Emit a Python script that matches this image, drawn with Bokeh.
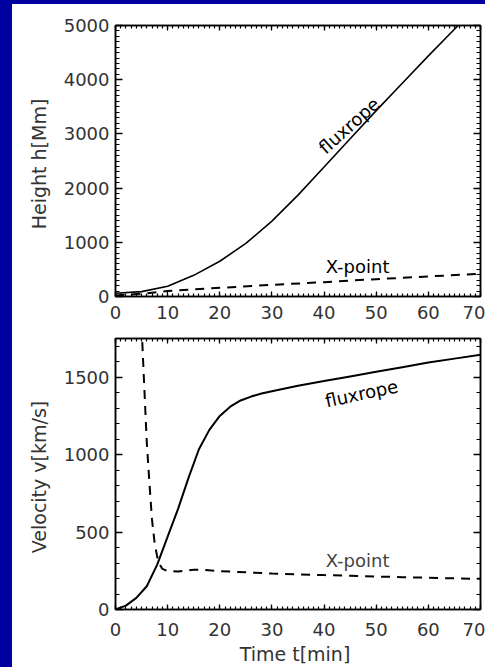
from bokeh.plotting import figure
from bokeh.models import Range1d, LinearAxis, SingleIntervalTicker, Label, Div, CustomJSTickFormatter
from bokeh.layouts import row, column
from bokeh.embed import file_html
from bokeh.resources import INLINE

# ---------------- data ----------------
# Height panel
t_h_flux = [0, 5, 10, 15, 20, 25, 30, 35, 40, 45, 50, 55, 60, 65, 70]
h_flux = [60, 90, 190, 390, 650, 980, 1390, 1870, 2390, 2910, 3430, 3935, 4440, 4930, 5420]
t_h_xpt = [0, 5, 10, 20, 30, 40, 50, 60, 70]
h_xpt = [20, 50, 100, 160, 215, 265, 320, 370, 420]

# Velocity panel
t_v_flux = [0, 2, 4, 6, 8, 10, 12, 14, 16, 18, 20, 22, 24, 26, 28, 30,
            35, 40, 45, 50, 55, 60, 65, 70]
v_flux = [0, 25, 75, 150, 290, 470, 650, 850, 1035, 1160, 1250, 1310, 1350, 1375, 1395, 1410,
          1445, 1475, 1505, 1535, 1565, 1595, 1620, 1645]
t_v_xpt = [5.0, 5.5, 6.0, 6.5, 7.0, 7.5, 8.0, 8.5, 9.0, 10, 12, 15, 17, 20, 25, 30,
           35, 40, 45, 50, 55, 60, 65, 70]
v_xpt = [1830, 1450, 1080, 820, 580, 430, 340, 290, 262, 248, 245, 256, 256, 248, 240, 232,
         227, 222, 218, 213, 209, 205, 201, 198]

x_range = (0, 70)
h_range = (0, 5000)
v_range = (0, 1750)

FONT = "DejaVu Sans"
TXT = "#333333"
BLUE = "#0000A0"


def make_fig(height, top, bottom, y_rng, y_int, y_minor, y_label, x_label, x_std, x_lab_std):
    p = figure(width=473, height=height, x_range=Range1d(*x_range), y_range=Range1d(*y_rng),
               output_backend="svg", toolbar_location=None,
               x_axis_type=None, y_axis_type=None,
               min_border_left=103, min_border_right=5,
               min_border_top=top, min_border_bottom=bottom,
               background_fill_color="white", border_fill_color="white")
    p.grid.visible = False
    p.outline_line_color = "black"
    p.outline_line_width = 1.5
    xt = SingleIntervalTicker(interval=10, num_minor_ticks=10)
    yt = SingleIntervalTicker(interval=y_int, num_minor_ticks=y_minor)

    def ax(ticker, show, label, std, major_len, minor_len):
        a = LinearAxis(ticker=ticker, axis_label=label)
        a.axis_line_color = "black"
        a.axis_line_width = 1.5
        a.major_tick_in = major_len
        a.major_tick_out = 0
        a.minor_tick_in = minor_len
        a.minor_tick_out = 0
        a.major_tick_line_width = 1.3
        a.minor_tick_line_width = 1.2
        a.major_tick_line_color = "black"
        a.minor_tick_line_color = "black"
        a.major_label_text_font = FONT
        a.major_label_text_color = TXT
        a.axis_label_text_font = FONT
        a.axis_label_text_color = TXT
        a.axis_label_text_font_style = "normal"
        a.axis_label_text_font_size = "19px"
        if show:
            a.major_label_text_font_size = "18px"
            a.major_label_standoff = std
        else:
            a.formatter = CustomJSTickFormatter(code="return '';")
            a.major_label_text_font_size = "1px"
            a.major_label_standoff = 0
        return a

    bx = ax(xt, True, x_label, x_std, 5, 3)
    bx.axis_label_standoff = x_lab_std
    p.add_layout(bx, "below")
    p.add_layout(ax(xt, False, None, 0, 5, 3), "above")
    ly = ax(yt, True, y_label, 6, 7, 4)
    ly.axis_label_standoff = 11
    p.add_layout(ly, "left")
    p.add_layout(ax(yt, False, None, 0, 7, 4), "right")
    return p


# ---- top: height ----
p1 = make_fig(326, 21, 34, h_range, 1000, 10, "Height  h[Mm]", None, 9, 3)
p1.line(t_h_flux, h_flux, line_color="black", line_width=1.6)
p1.line(t_h_xpt, h_xpt, line_color="black", line_width=2, line_dash="9 7")
p1.add_layout(Label(x=44.8, y=3155, text="fluxrope", angle=41.6, angle_units="deg",
                    text_align="center", text_baseline="middle", text_font=FONT,
                    text_font_size="18px", text_color="black"))
p1.add_layout(Label(x=40.3, y=560, text="X-point", text_align="left",
                    text_baseline="alphabetic", text_font=FONT,
                    text_font_size="18px", text_color="black"))

# ---- bottom: velocity ----
p2 = make_fig(337, 8, 58, v_range, 500, 5, "Velocity  v[km/s]", "Time  t[min]", 13, 4)
p2.line(t_v_flux, v_flux, line_color="black", line_width=2)
p2.line(t_v_xpt, v_xpt, line_color="black", line_width=2, line_dash="9 7")
p2.add_layout(Label(x=47.2, y=1395, text="fluxrope", angle=12, angle_units="deg",
                    text_align="center", text_baseline="middle", text_font=FONT,
                    text_font_size="18px", text_color="black"))
p2.add_layout(Label(x=40.3, y=318, text="X-point", text_align="left",
                    text_baseline="alphabetic", text_font=FONT,
                    text_font_size="18px", text_color="#444444"))

left_strip = Div(text="", width=12, height=667, margin=0,
                 styles={"background-color": BLUE})
top_strip = Div(text="", width=473, height=4, margin=0,
                styles={"background-color": BLUE})

layout = row(left_strip, column(top_strip, p1, p2, spacing=0), spacing=0)

open("out.html", "w").write(file_html(layout, INLINE))
